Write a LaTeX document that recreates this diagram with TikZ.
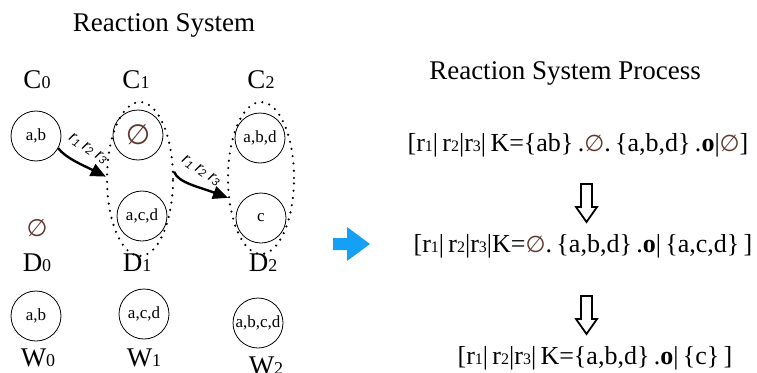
\documentclass[tikz,border=0pt]{standalone}
\usepackage{fontspec}
\setmainfont{Liberation Serif}
\newfontfamily\lsans{Liberation Sans}
\newfontfamily\symf{DejaVu Sans}
\usetikzlibrary{shapes.geometric,arrows.meta}
\definecolor{emptyc}{RGB}{95,55,45}
\definecolor{blueA}{RGB}{20,160,245}
\newcommand\fs[1]{\fontsize{#1}{#1}\selectfont}
\newcommand\bigsub[1]{{\fs{18}#1}}
\newcommand\esym[1]{{\symf\fs{#1}\color{emptyc}∅}}
\newcommand\rs[1]{r{\fs{16}#1}}
\newcommand\ar[1]{r\raisebox{-1.5pt}{\fs{11}#1}}
\begin{document}
\begin{tikzpicture}[x=1pt,y=-1pt,
  setc/.style={draw,circle,line width=0.8pt,minimum size=50pt,inner sep=0pt,font=\fs{17}},
  dotell/.style={draw,ellipse,line width=2.4pt,dash pattern=on 0pt off 7.3pt,line cap=round,inner sep=0pt},
  lab/.style={font=\fs{27},inner sep=0pt},
  form/.style={font=\fs{26},inner sep=0pt},
  rarrow/.style={line width=2.4pt,-{Triangle[length=15pt,width=13pt]}},
  rlab/.style={font=\lsans\itshape\fs{16},inner sep=0pt,rotate=-34},
  hollow/.style={draw,line width=1.8pt,fill=white,line join=miter}]
\useasboundingbox (0,0) rectangle (757,372);

% titles
\node[lab] (t1) at (164,25) {Reaction System};
\node[lab] (t2) at (565,73) {Reaction System Process};

% C labels
\node[lab] (C0) at (37,80) {C\bigsub{0}};
\node[lab] (C1) at (136,80) {C\bigsub{1}};
\node[lab] (C2) at (261,80) {C\bigsub{2}};

% dotted ellipses
\node[dotell,minimum width=66pt,minimum height=154pt] (e1) at (140,179) {};
\node[dotell,minimum width=66pt,minimum height=152pt] (e2) at (261,178) {};

% C circles
\node[setc] (cab) at (36,136) {a,b};
\node[setc] (c1a) at (138,135) {\esym{28}};
\node[setc] (c1b) at (142,216) {a,c,d};
\node[setc] (c2a) at (260,138) {a,b,d};
\node[setc] (c2b) at (261,218) {c};

% reaction arrows
\draw[rarrow] (cab.-29) .. controls +(8,10) and +(-24,-12) .. (e1.176);
\draw[rarrow] (e1.12) .. controls +(4,11) and +(-29,-11) .. (e2.211);
\node[rlab] (l1) at (88,149) {\ar1 \ar2 \ar3};
\node[rlab] (l2) at (201,171) {\ar1 \ar2 \ar3};

% D
\node[inner sep=0pt] (d0e) at (37,228) {\esym{24}};
\node[lab] (D0) at (37,263) {D\bigsub{0}};
\node[lab] (D1) at (137,263) {D\bigsub{1}};
\node[lab] (D2) at (263,263) {D\bigsub{2}};

% W
\node[setc] (w0) at (36,316) {a,b};
\node[setc] (w1) at (144,314) {a,c,d};
\node[setc] (w2) at (258,323) {a,b,c,d};
\node[lab] (W0) at (38,358) {W\bigsub{0}};
\node[lab] (W1) at (144,358) {W\bigsub{1}};
\node[lab] (W2) at (266,366) {W\bigsub{2}};

% blue arrow
\fill[blueA] (333,238) -- (347,238) -- (347,227) -- (370,244) -- (347,261) -- (347,250) -- (333,250) -- cycle;

% formulas
\node[form] (f1) at (578,145) {[\rs1|\,\rs2|\rs3|\,K=\{ab\}\,.\esym{23}.\,\{a,b,d\}\,.\textbf{o}|\esym{23}]};
\node[form] (f2) at (583,246) {[\rs1|\,\rs2|\rs3|K=\esym{23}.\,\{a,b,d\}\,.\textbf{o}|\,\{a,c,d\}\,]};
\node[form] (f3) at (595,358) {[\rs1|\,\rs2|\rs3|\,K=\{a,b,d\}\,.\textbf{o}|\,\{c\}\,]};

% hollow arrows
\draw[hollow] (581,184) -- (592,184) -- (592,207) -- (597,207) -- (586.5,222) -- (576,207) -- (581,207) -- cycle;
\draw[hollow] (581,296) -- (592,296) -- (592,319) -- (597,319) -- (586.5,334) -- (576,319) -- (581,319) -- cycle;
\end{tikzpicture}
\end{document}
